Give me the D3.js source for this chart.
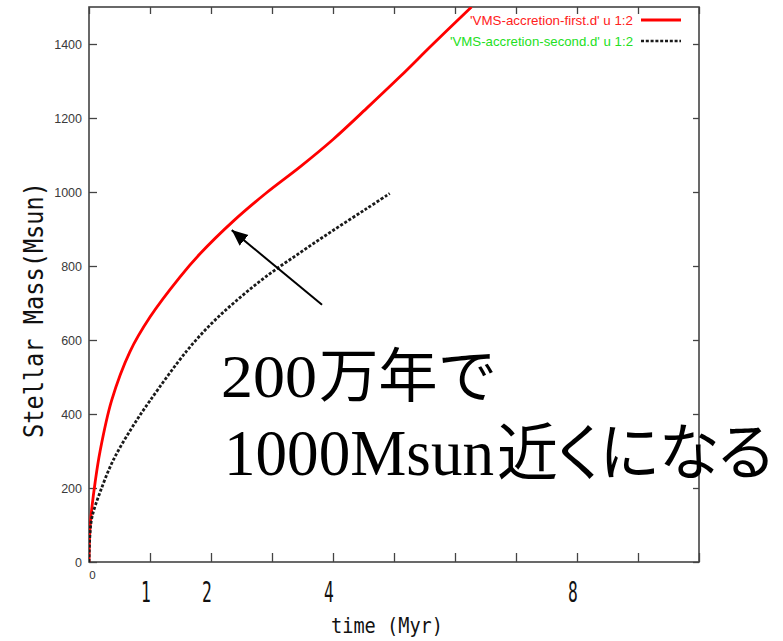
<!DOCTYPE html>
<html><head><meta charset="utf-8">
<script src="https://cdn.jsdelivr.net/npm/d3@7"></script>
<style>body{margin:0;background:#fff}svg{display:block}</style>
</head><body>
<svg id="chart" width="783" height="641"></svg>
<script>
// ---- data ----
const firstTime = [0, 0.008, 0.02, 0.044, 0.1, 0.18, 0.37, 0.67, 1.0, 1.49, 1.82, 2.37, 2.91, 3.46, 4.0, 4.55, 5.1, 5.64, 6.27];
const firstMass = [0, 62, 100, 142, 215, 298, 436, 568, 662, 770, 833, 922, 998, 1068, 1142, 1226, 1312, 1400, 1500];
const secondTime = [0, 0.016, 0.05, 0.18, 0.4, 0.7, 1.0, 1.6, 2.0, 2.4, 2.89, 3.46, 4.0, 4.55, 4.93];
const secondMass = [0, 75, 122, 188, 276, 362, 436, 570, 643, 704, 770, 836, 896, 955, 996];
const xTickValues = [0, 1, 2, 3, 4, 5, 6, 7, 8, 9, 10];
const xBigLabels = [1, 2, 4, 8];
const yTickValues = [0, 200, 400, 600, 800, 1000, 1200, 1400];
const legendLabels = ["'VMS-accretion-first.d' u 1:2", "'VMS-accretion-second.d' u 1:2"];
const xTitle = "time (Myr)";
const yTitle = "Stellar Mass(Msun)";
const note1 = ["200", "万年で"];
const note2 = ["1000Msun", "近くになる"];
const arrowFrom = [3.82, 695];
const arrowTo = [2.34, 897];

// ---- layout ----
const W = 783, H = 641;
const m = {left: 89, right: 84, top: 7, bottom: 79};
const svg = d3.select("#chart");
const x = d3.scaleLinear().domain([0, 10]).range([m.left, W - m.right]);
const y = d3.scaleLinear().domain([0, 1500]).range([H - m.bottom, m.top]);

const defs = svg.append("defs");
defs.append("clipPath").attr("id", "plot")
  .append("rect").attr("x", x(0)).attr("y", y(1500)).attr("width", x(10) - x(0)).attr("height", y(0) - y(1500));

const axisColor = "#444";
function styleAxis(g) {
  g.select(".domain").remove();
  g.selectAll(".tick line").attr("stroke", axisColor).attr("stroke-width", 1.3);
}
// left axis
svg.append("g").attr("transform", `translate(${x(0)},0)`)
  .call(d3.axisLeft(y).tickValues(yTickValues).tickSize(-8).tickPadding(7).tickFormat(d3.format("d")))
  .call(styleAxis)
  .call(g => g.selectAll("text").attr("font-family", "Liberation Sans, Arial, sans-serif").attr("font-size", 12.5).attr("fill", "#3a3a3a"));
// right mirror
svg.append("g").attr("transform", `translate(${x(10)},0)`)
  .call(d3.axisRight(y).tickValues(yTickValues).tickSize(-6).tickFormat(""))
  .call(styleAxis);
// bottom axis
svg.append("g").attr("transform", `translate(0,${y(0)})`)
  .call(d3.axisBottom(x).tickValues(xTickValues).tickSize(-9).tickPadding(9).tickFormat(d => d === 0 ? "0" : ""))
  .call(styleAxis)
  .call(g => g.selectAll("text").attr("font-family", "Liberation Sans, Arial, sans-serif").attr("font-size", 11.5).attr("fill", "#333").attr("dx", 3));
// top mirror
svg.append("g").attr("transform", `translate(0,${y(1500)})`)
  .call(d3.axisTop(x).tickValues(xTickValues).tickSize(-7).tickFormat(""))
  .call(styleAxis);

// big x labels (condensed)
svg.append("g").selectAll("text").data(xBigLabels).join("text")
  .attr("x", 0).attr("y", 0)
  .attr("text-anchor", "middle")
  .attr("font-family", "DejaVu Sans Mono, monospace").attr("font-size", 29)
  .attr("transform", d => `translate(${x(d) - 4},${y(0) + 40}) scale(0.56,1)`)
  .attr("fill", "#111").text(d => d);

// axis titles
svg.append("text").attr("x", 387).attr("y", 633).attr("text-anchor", "middle")
  .attr("font-family", "DejaVu Sans Mono, monospace").attr("font-size", 22)
  .attr("textLength", 112).attr("lengthAdjust", "spacingAndGlyphs")
  .attr("fill", "#111").text(xTitle);
svg.append("text").attr("transform", "translate(43,310) rotate(-90)").attr("text-anchor", "middle")
  .attr("font-family", "DejaVu Sans Mono, monospace").attr("font-size", 26)
  .attr("textLength", 256).attr("lengthAdjust", "spacingAndGlyphs")
  .attr("fill", "#111").text(yTitle);

// frame
svg.append("rect").attr("x", x(0)).attr("y", y(1500)).attr("width", x(10) - x(0)).attr("height", y(0) - y(1500))
  .attr("fill", "none").attr("stroke", axisColor).attr("stroke-width", 1.6);

// curves
const line = d3.line().x(d => x(d[0])).y(d => y(d[1])).curve(d3.curveCatmullRom.alpha(0.5));
const curves = svg.append("g").attr("clip-path", "url(#plot)");
curves.append("path").datum(d3.zip(firstTime, firstMass)).attr("d", line)
  .attr("fill", "none").attr("stroke", "#ff0000").attr("stroke-width", 2.8);
curves.append("path").datum(d3.zip(secondTime, secondMass)).attr("d", line)
  .attr("fill", "none").attr("stroke", "#1a1a1a").attr("stroke-width", 2.8).attr("stroke-dasharray", "3,1.8");

// legend
const legendColors = ["#ff2020", "#22e022"];
const legendY = [20, 41];
legendLabels.forEach((t, i) => {
  svg.append("text").attr("x", 633).attr("y", legendY[i] + 5).attr("text-anchor", "end")
    .attr("font-family", "Liberation Sans, Arial, sans-serif").attr("font-size", 13.5)
    .attr("textLength", i === 0 ? 163 : 183).attr("lengthAdjust", "spacingAndGlyphs")
    .attr("fill", legendColors[i]).text(t);
  svg.append("line").attr("x1", 641).attr("x2", 681).attr("y1", legendY[i]).attr("y2", legendY[i])
    .attr("stroke", i === 0 ? "#ff0000" : "#1a1a1a").attr("stroke-width", i === 0 ? 2.8 : 2.6)
    .attr("stroke-dasharray", i === 0 ? null : "3,1.8");
});

// arrow
defs.append("marker").attr("id", "head").attr("markerUnits", "userSpaceOnUse")
  .attr("markerWidth", 20).attr("markerHeight", 20).attr("refX", 16).attr("refY", 7)
  .attr("orient", "auto").append("path").attr("d", "M0,0 L16,7 L0,14 Z").attr("fill", "#000");
svg.append("line").attr("x1", x(arrowFrom[0])).attr("y1", y(arrowFrom[1]))
  .attr("x2", x(arrowTo[0])).attr("y2", y(arrowTo[1]))
  .attr("stroke", "#000").attr("stroke-width", 2).attr("marker-end", "url(#head)");

// annotation text
const serif = "Liberation Serif, Times New Roman, serif";
const cjk = "Noto Sans CJK JP, sans-serif";
svg.append("text").attr("x", 221).attr("y", 397).attr("font-family", serif).attr("font-size", 62)
  .attr("textLength", 96).attr("lengthAdjust", "spacingAndGlyphs").attr("fill", "#000").text(note1[0]);
svg.append("text").attr("x", 319).attr("y", 397).attr("font-family", cjk).attr("font-size", 59)
  .attr("textLength", 178).attr("lengthAdjust", "spacingAndGlyphs").attr("fill", "#000").text(note1[1]);
svg.append("text").attr("x", 224).attr("y", 475).attr("font-family", serif).attr("font-size", 66)
  .attr("textLength", 270).attr("lengthAdjust", "spacingAndGlyphs").attr("fill", "#000").text(note2[0]);
svg.append("text").attr("x", 497).attr("y", 475).attr("font-family", cjk).attr("font-size", 62)
  .style("font-feature-settings", "'palt'")
  .attr("textLength", 276).attr("lengthAdjust", "spacingAndGlyphs").attr("fill", "#000").text(note2[1]);
</script>
</body></html>
